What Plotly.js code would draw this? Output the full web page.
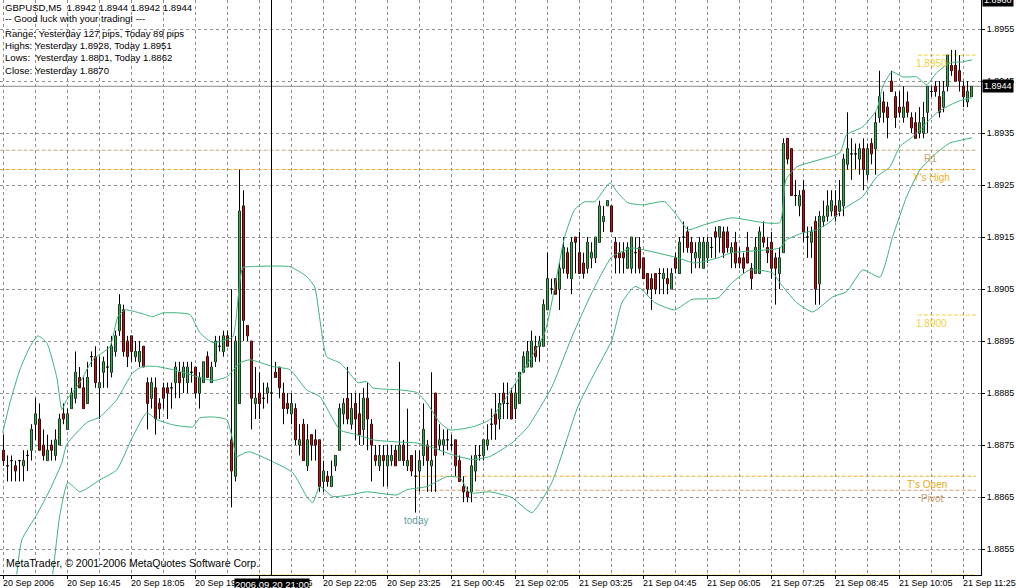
<!DOCTYPE html>
<html>
<head>
<meta charset="utf-8">
<script src="https://cdn.plot.ly/plotly-3.0.1.min.js"></script>
<style>html,body{margin:0;padding:0;background:#fff;}#chart{width:1016px;height:588px;}</style>
</head>
<body>
<div id="chart"></div>
<script>
// ---- data: GBPUSD M5 candles, 20 Sep 2006 15:25 .. 21 Sep 2006 11:35 ----
const tickLabels = ["20 Sep 2006","20 Sep 16:45","20 Sep 18:05","20 Sep 19:25","20 Sep 20:45","20 Sep 22:05","20 Sep 23:25","21 Sep 00:45","21 Sep 02:05","21 Sep 03:25","21 Sep 04:45","21 Sep 06:05","21 Sep 07:25","21 Sep 08:45","21 Sep 10:05","21 Sep 11:25"];
const priceTicks = [1.8855,1.8865,1.8875,1.8885,1.8895,1.8905,1.8915,1.8925,1.8935,1.8945,1.8955];

const opens = [
1.8874,1.8871,1.8872,1.8871,1.8872,1.8871,1.8873,1.8874,1.8879,1.8880,
1.8875,1.8872,1.8875,1.8873,1.8875,1.8881,1.8878,1.8882,1.8884,1.8888,
1.8886,1.8883,1.8892,1.8892,1.8886,1.8889,1.8890,1.8889,1.8893,1.8897,
1.8901,1.8895,1.8896,1.8892,1.8891,1.8894,1.8887,1.8884,1.8886,1.8883,
1.8886,1.8886,1.8886,1.8887,1.8889,1.8888,1.8887,1.8889,1.8890,1.8885,
1.8887,1.8892,1.8887,1.8891,1.8894,1.8893,1.8896,1.8876,1.8869,1.8883,
1.8921,1.8898,1.8895,1.8883,1.8885,1.8884,1.8885,1.8885,1.8889,1.8890,
1.8885,1.8883,1.8881,1.8882,1.8875,1.8879,1.8871,1.8877,1.8876,1.8876,
1.8868,1.8869,1.8867,1.8871,1.8874,1.8881,1.8884,1.8879,1.8883,1.8881,
1.8878,1.8884,1.8879,1.8873,1.8871,1.8873,1.8871,1.8872,1.8874,1.8872,
1.8875,1.8871,1.8873,1.8869,1.8870,1.8873,1.8875,1.8871,1.8885,1.8875,
1.8875,1.8876,1.8875,1.8876,1.8872,1.8867,1.8866,1.8866,1.8870,1.8873,
1.8873,1.8875,1.8879,1.8881,1.8880,1.8885,1.8883,1.8885,1.8882,1.8883,
1.8889,1.8890,1.8890,1.8894,1.8894,1.8894,1.8901,1.8905,1.8907,1.8905,
1.8909,1.8912,1.8907,1.8915,1.8912,1.8910,1.8909,1.8911,1.8911,1.8914,
1.8918,1.8921,1.8921,1.8914,1.8912,1.8912,1.8909,1.8909,1.8912,1.8913,
1.8911,1.8908,1.8907,1.8908,1.8908,1.8907,1.8907,1.8905,1.8911,1.8908,
1.8915,1.8916,1.8914,1.8911,1.8911,1.8909,1.8911,1.8913,1.8916,1.8915,
1.8916,1.8916,1.8912,1.8914,1.8911,1.8911,1.8913,1.8909,1.8908,1.8908,
1.8915,1.8913,1.8914,1.8911,1.8908,1.8912,1.8934,1.8932,1.8923,1.8921,
1.8924,1.8915,1.8914,1.8918,1.8906,1.8918,1.8919,1.8920,1.8921,1.8920,
1.8921,1.8929,1.8931,1.8931,1.8930,1.8932,1.8927,1.8933,1.8932,1.8938,
1.8941,1.8940,1.8945,1.8942,1.8940,1.8938,1.8941,1.8938,1.8937,1.8935,
1.8935,1.8939,1.8943,1.8944,1.8942,1.8940,1.8944,1.8948,1.8948,1.8947,
1.8944,1.8941,1.8942];
const highs = [
1.8877,1.8873,1.8873,1.8872,1.8872,1.8874,1.8874,1.8879,1.8884,1.8883,
1.8878,1.8877,1.8876,1.8878,1.8881,1.8883,1.8882,1.8886,1.8893,1.8890,
1.8888,1.8891,1.8893,1.8894,1.8892,1.8892,1.8894,1.8896,1.8897,1.8904,
1.8902,1.8896,1.8896,1.8895,1.8895,1.8894,1.8888,1.8888,1.8888,1.8884,
1.8887,1.8887,1.8887,1.8891,1.8891,1.8891,1.8891,1.8891,1.8890,1.8889,
1.8891,1.8893,1.8891,1.8896,1.8896,1.8897,1.8897,1.8905,1.8896,1.8928,
1.8924,1.8898,1.8895,1.8890,1.8889,1.8887,1.8887,1.8886,1.8891,1.8890,
1.8887,1.8885,1.8885,1.8883,1.8879,1.8880,1.8879,1.8877,1.8878,1.8876,
1.8872,1.8870,1.8872,1.8873,1.8883,1.8884,1.8890,1.8885,1.8885,1.8885,
1.8886,1.8887,1.8880,1.8875,1.8875,1.8875,1.8875,1.8875,1.8875,1.8891,
1.8876,1.8882,1.8873,1.8874,1.8874,1.8883,1.8876,1.8889,1.8885,1.8879,
1.8878,1.8878,1.8877,1.8876,1.8873,1.8869,1.8867,1.8873,1.8875,1.8875,
1.8876,1.8879,1.8882,1.8885,1.8885,1.8887,1.8887,1.8886,1.8887,1.8889,
1.8893,1.8895,1.8897,1.8896,1.8896,1.8903,1.8912,1.8907,1.8907,1.8910,
1.8915,1.8913,1.8915,1.8915,1.8916,1.8912,1.8915,1.8914,1.8915,1.8922,
1.8921,1.8922,1.8921,1.8915,1.8914,1.8914,1.8914,1.8915,1.8915,1.8915,
1.8911,1.8908,1.8908,1.8908,1.8909,1.8909,1.8909,1.8909,1.8912,1.8915,
1.8918,1.8917,1.8915,1.8914,1.8915,1.8915,1.8915,1.8915,1.8917,1.8917,
1.8917,1.8917,1.8914,1.8916,1.8913,1.8912,1.8916,1.8910,1.8915,1.8917,
1.8918,1.8915,1.8916,1.8912,1.8913,1.8934,1.8934,1.8932,1.8926,1.8924,
1.8926,1.8917,1.8917,1.8919,1.8920,1.8922,1.8924,1.8924,1.8924,1.8926,
1.8931,1.8939,1.8934,1.8933,1.8933,1.8934,1.8933,1.8934,1.8939,1.8947,
1.8943,1.8941,1.8947,1.8943,1.8943,1.8944,1.8943,1.8939,1.8939,1.8940,
1.8941,1.8944,1.8944,1.8945,1.8945,1.8945,1.8950,1.8951,1.8951,1.8950,
1.8945,1.8945,1.8944];
const lows = [
1.8871,1.8868,1.8868,1.8868,1.8868,1.8868,1.8870,1.8872,1.8876,1.8874,
1.8872,1.8872,1.8872,1.8872,1.8875,1.8879,1.8878,1.8882,1.8883,1.8886,
1.8882,1.8883,1.8890,1.8886,1.8880,1.8886,1.8886,1.8888,1.8892,1.8896,
1.8892,1.8890,1.8891,1.8891,1.8890,1.8890,1.8878,1.8882,1.8877,1.8880,
1.8882,1.8880,1.8882,1.8884,1.8884,1.8885,1.8885,1.8887,1.8884,1.8882,
1.8887,1.8888,1.8887,1.8890,1.8893,1.8892,1.8894,1.8863,1.8868,1.8883,
1.8895,1.8895,1.8878,1.8880,1.8880,1.8882,1.8883,1.8883,1.8888,1.8884,
1.8879,1.8881,1.8879,1.8875,1.8873,1.8872,1.8870,1.8872,1.8872,1.8866,
1.8866,1.8867,1.8867,1.8870,1.8874,1.8879,1.8879,1.8878,1.8876,1.8875,
1.8875,1.8874,1.8868,1.8871,1.8870,1.8867,1.8867,1.8871,1.8871,1.8872,
1.8871,1.8870,1.8869,1.8862,1.8866,1.8871,1.8866,1.8866,1.8866,1.8874,
1.8873,1.8874,1.8874,1.8869,1.8868,1.8864,1.8864,1.8864,1.8868,1.8872,
1.8872,1.8874,1.8876,1.8876,1.8878,1.8880,1.8880,1.8880,1.8880,1.8883,
1.8889,1.8890,1.8890,1.8891,1.8891,1.8894,1.8901,1.8904,1.8904,1.8901,
1.8908,1.8907,1.8904,1.8908,1.8908,1.8907,1.8908,1.8909,1.8910,1.8914,
1.8916,1.8921,1.8916,1.8908,1.8908,1.8908,1.8909,1.8908,1.8908,1.8908,
1.8907,1.8904,1.8901,1.8904,1.8904,1.8904,1.8904,1.8905,1.8908,1.8908,
1.8912,1.8912,1.8908,1.8909,1.8909,1.8909,1.8910,1.8911,1.8911,1.8912,
1.8911,1.8912,1.8909,1.8909,1.8909,1.8908,1.8910,1.8905,1.8908,1.8908,
1.8913,1.8910,1.8907,1.8902,1.8905,1.8912,1.8929,1.8923,1.8921,1.8919,
1.8914,1.8911,1.8911,1.8902,1.8902,1.8917,1.8918,1.8919,1.8918,1.8919,
1.8919,1.8928,1.8926,1.8928,1.8927,1.8924,1.8926,1.8929,1.8927,1.8937,
1.8937,1.8934,1.8943,1.8936,1.8938,1.8937,1.8938,1.8935,1.8934,1.8934,
1.8934,1.8935,1.8942,1.8942,1.8938,1.8939,1.8943,1.8946,1.8945,1.8943,
1.8940,1.8940,1.8942];
const closes = [
1.8872,1.8871,1.8872,1.8870,1.8872,1.8872,1.8873,1.8878,1.8881,1.8874,
1.8873,1.8874,1.8874,1.8876,1.8880,1.8880,1.8881,1.8885,1.8889,1.8886,
1.8882,1.8888,1.8892,1.8887,1.8887,1.8891,1.8890,1.8894,1.8896,1.8902,
1.8893,1.8892,1.8893,1.8893,1.8893,1.8890,1.8883,1.8887,1.8880,1.8882,
1.8884,1.8885,1.8886,1.8890,1.8887,1.8890,1.8890,1.8889,1.8885,1.8888,
1.8891,1.8888,1.8890,1.8895,1.8894,1.8896,1.8894,1.8870,1.8895,1.8920,
1.8899,1.8896,1.8884,1.8884,1.8883,1.8884,1.8886,1.8885,1.8888,1.8886,
1.8882,1.8882,1.8883,1.8876,1.8876,1.8872,1.8876,1.8875,1.8875,1.8867,
1.8870,1.8868,1.8869,1.8873,1.8882,1.8883,1.8880,1.8882,1.8880,1.8877,
1.8884,1.8880,1.8875,1.8872,1.8873,1.8872,1.8873,1.8873,1.8871,1.8875,
1.8872,1.8872,1.8870,1.8869,1.8872,1.8878,1.8872,1.8872,1.8873,1.8876,
1.8876,1.8876,1.8875,1.8871,1.8868,1.8866,1.8865,1.8871,1.8873,1.8873,
1.8876,1.8876,1.8879,1.8879,1.8883,1.8883,1.8883,1.8880,1.8885,1.8889,
1.8892,1.8893,1.8895,1.8892,1.8895,1.8902,1.8907,1.8905,1.8904,1.8909,
1.8913,1.8908,1.8914,1.8914,1.8908,1.8908,1.8914,1.8912,1.8915,1.8921,
1.8919,1.8922,1.8916,1.8911,1.8911,1.8911,1.8913,1.8915,1.8912,1.8909,
1.8907,1.8905,1.8905,1.8905,1.8908,1.8908,1.8906,1.8908,1.8909,1.8914,
1.8915,1.8913,1.8912,1.8912,1.8914,1.8914,1.8914,1.8913,1.8915,1.8917,
1.8912,1.8913,1.8913,1.8910,1.8910,1.8909,1.8910,1.8907,1.8913,1.8916,
1.8914,1.8912,1.8909,1.8909,1.8911,1.8933,1.8930,1.8923,1.8923,1.8923,
1.8916,1.8915,1.8916,1.8905,1.8919,1.8919,1.8921,1.8922,1.8919,1.8922,
1.8930,1.8932,1.8931,1.8931,1.8932,1.8928,1.8932,1.8931,1.8937,1.8942,
1.8939,1.8938,1.8943,1.8938,1.8939,1.8940,1.8939,1.8936,1.8934,1.8937,
1.8938,1.8944,1.8943,1.8943,1.8939,1.8943,1.8950,1.8947,1.8945,1.8945,
1.8942,1.8943,1.8944];

// Bollinger bands, read at bar positions (bar index)
const upperBar = [-0.2,1.6,4.1,6.6,8.6,10.8,13.3,14.6,15.8,19.1,22.3,26.6,28.6,30.3,34.1,37.3,39.8,46.6,49.1,52.3,57.3,58.1,59.8,61.6,71.6,75.8,77.8,79.1,80.8,84.1,85.8,88.6,90.8,92.3,99.1,103.3,105.8,109.1,111.6,117.3,121.6,128.6,135.3,140.3,142.8,145.3,147.8,151.6,153.6,156.1,159.8,165.3,168.6,171.1,175.3,182.1,189.8,194.1,195.6,198.3,204.1,209.1,210.8,214.8,218.3,219.8,222.1,224.8,228.3,230.8,233.3,236.6,239.8,242.1];
const upperBand = [1.88774,1.88831,1.88895,1.88939,1.88960,1.88947,1.88881,1.88818,1.88837,1.88870,1.88914,1.88939,1.88997,1.89010,1.89004,1.88997,1.89004,1.89001,1.88966,1.88947,1.88958,1.88991,1.89091,1.89093,1.89093,1.89074,1.89054,1.88991,1.88920,1.88908,1.88895,1.88870,1.88872,1.88860,1.88856,1.88851,1.88831,1.88793,1.88779,1.88785,1.88799,1.88876,1.88966,1.89151,1.89203,1.89218,1.89218,1.89254,1.89235,1.89216,1.89212,1.89218,1.89189,1.89164,1.89174,1.89187,1.89178,1.89178,1.89260,1.89285,1.89299,1.89312,1.89347,1.89362,1.89395,1.89439,1.89468,1.89458,1.89458,1.89443,1.89466,1.89485,1.89487,1.89491];
const middleBar = [3.3,4.6,8.3,11.6,14.6,15.8,20.8,24.1,28.3,32.3,34.8,38.3,42.3,49.1,52.3,55.8,59.1,61.6,67.3,71.6,75.8,79.1,84.1,88.3,92.3,98.3,103.3,107.3,112.3,117.3,121.6,127.1,131.1,137.1,142.1,147.1,152.1,157.1,162.1,168.6,172.8,178.6,182.1,194.1,195.8,199.8,203.3,206.6,209.8,214.8,218.3,221.6,224.1,227.3,229.8,233.3,236.6,239.8,242.1];
const middleBand = [1.88501,1.88568,1.88616,1.88664,1.88716,1.88751,1.88793,1.88804,1.88837,1.88889,1.88901,1.88901,1.88895,1.88880,1.88874,1.88881,1.88908,1.88914,1.88901,1.88895,1.88856,1.88843,1.88779,1.88770,1.88760,1.88756,1.88754,1.88745,1.88731,1.88722,1.88728,1.88754,1.88785,1.88862,1.88958,1.89043,1.89112,1.89129,1.89122,1.89110,1.89100,1.89110,1.89120,1.89129,1.89145,1.89158,1.89164,1.89179,1.89203,1.89228,1.89266,1.89285,1.89324,1.89343,1.89362,1.89389,1.89404,1.89414,1.89418];
const lowerBar = [12.3,13.3,14.1,16.1,19.1,24.1,28.3,32.3,35.8,38.3,42.3,47.3,49.1,52.3,55.8,57.1,58.3,60.3,61.6,67.3,72.3,75.8,77.3,79.1,82.3,86.6,90.8,98.3,100.8,105.8,110.8,114.1,116.6,121.6,127.1,132.1,137.1,143.6,147.8,152.1,154.6,157.8,159.6,162.8,167.8,172.1,178.6,182.1,186.6,192.3,194.1,198.3,202.3,207.3,210.8,214.8,219.1,222.3,225.8,229.1,233.3,236.6,239.8,242.1];
const lowerBand = [1.88501,1.88568,1.88616,1.88678,1.88660,1.88683,1.88702,1.88766,1.88812,1.88799,1.88789,1.88785,1.88802,1.88804,1.88799,1.88766,1.88728,1.88735,1.88737,1.88718,1.88697,1.88651,1.88639,1.88670,1.88651,1.88654,1.88660,1.88654,1.88664,1.88670,1.88689,1.88687,1.88658,1.88660,1.88649,1.88620,1.88678,1.88824,1.88889,1.88952,1.89024,1.89055,1.89049,1.89024,1.89010,1.89030,1.89033,1.89062,1.89087,1.89081,1.89062,1.89024,1.89006,1.89035,1.89045,1.89087,1.89073,1.89151,1.89228,1.89279,1.89312,1.89331,1.89337,1.89341];

// levels
const currentPrice = 1.8944;
const yHigh = 1.8928, r1 = 1.89317, pivot = 1.88663, todayOpen = 1.8869, todayLow = 1.8862;
const roundLevels = [1.8950, 1.8900, 1.8850];
const todayStartBar = 103, crossBar = 67;

// ---- drawing ----
const bars = opens.map((_, i) => i);
const FONT = 'Liberation Sans, Arial, sans-serif';
const gridColor = '#8f8f8f';
const xEnd = 243.1;
const BULL = '#45a455', BEAR = '#b01818';

// body colour strips (one segment per candle body), drawn above the black candle outline
function bodyStrip(up) {
  const xs = [], ys = [];
  opens.forEach((o, i) => {
    const c = closes[i];
    if (up ? c > o : c < o) { xs.push(i, i, null); ys.push(o, c, null); }
  });
  return {type:'scatter', mode:'lines', x:xs, y:ys, connectgaps:false,
          line:{color: up ? BULL : BEAR, width:1.7}, hoverinfo:'skip'};
}

const traces = [
  {type:'candlestick', x: bars, open: opens, high: highs, low: lows, close: closes,
   increasing:{line:{color:'#000000', width:1}, fillcolor:BULL},
   decreasing:{line:{color:'#000000', width:1}, fillcolor:BEAR},
   whiskerwidth:0, hoverinfo:'skip'},
  bodyStrip(true),
  bodyStrip(false),
  {type:'scatter', mode:'lines', x: upperBar, y: upperBand, line:{color:'#3cb37a', width:1, shape:'spline', smoothing:0.5}, hoverinfo:'skip'},
  {type:'scatter', mode:'lines', x: middleBar, y: middleBand, line:{color:'#3cb37a', width:1, shape:'spline', smoothing:0.5}, hoverinfo:'skip'},
  {type:'scatter', mode:'lines', x: lowerBar, y: lowerBand, line:{color:'#3cb37a', width:1, shape:'spline', smoothing:0.5}, hoverinfo:'skip'}
];

function hline(y, x0, x1, color, dash, xref) {
  return {type:'line', xref: xref || 'x', yref:'y', x0:x0, x1:x1, y0:y, y1:y,
          line:{color:color, width:1, dash:dash}, layer:'below'};
}
const shapes = [
  hline(currentPrice, 0, 1, '#8c8c8c', 'solid', 'paper'),
  hline(yHigh, -1, xEnd, '#f0a830', '4px,2px'),
  hline(r1, -1, xEnd, '#c8a880', '4px,2px'),
  hline(roundLevels[0], 228.6, xEnd, '#f2d23a', '4px,2px'),
  hline(roundLevels[1], 228.6, xEnd, '#f2d23a', '4px,2px'),
  hline(roundLevels[2], 61.6, xEnd, '#f2d23a', '4px,2px'),
  hline(todayOpen, todayStartBar, xEnd, '#f0b030', '4px,2px'),
  hline(pivot, todayStartBar, xEnd, '#d8a070', '4px,2px'),
  {type:'line', xref:'x', yref:'paper', x0:crossBar, x1:crossBar, y0:0, y1:1, line:{color:'#000', width:1}, layer:'above'}
];

const infoLines = [
  ["GBPUSD,M5\u00a0 1.8942 1.8944 1.8942 1.8944", 7],
  ["-- Good luck with your trading! ---", 18],
  ["Range: Yesterday 127 pips, Today 89 pips", 33],
  ["Highs: Yesterday 1.8928, Today 1.8951", 45.5],
  ["Lows:\u00a0 Yesterday 1.8801, Today 1.8862", 57.5],
  ["Close: Yesterday 1.8870", 70]
];
const annotations = infoLines.map(([t, yy]) => ({
  text:t, xref:'paper', yref:'paper', x:0, y:1, xanchor:'left', yanchor:'middle',
  xshift:3, yshift:-yy, showarrow:false, font:{family:FONT, size:9.6, color:'#000'}
}));
annotations.push({text:'MetaTrader, © 2001-2006 MetaQuotes Software Corp.', xref:'paper', yref:'paper', x:0, y:0,
  xanchor:'left', yanchor:'middle', xshift:4, yshift:12, showarrow:false, font:{family:FONT, size:10.5, color:'#000'}});

// time labels (left-aligned at their tick, as in the terminal)
const majorTicks = tickLabels.map((_, k) => k * 16);
const minorTicks = tickLabels.map((_, k) => k * 16 + 8);
tickLabels.forEach((t, k) => annotations.push({
  text:t, xref:'x', yref:'paper', x:majorTicks[k], y:0, xanchor:'left', yanchor:'top',
  xshift:-2, yshift:-2, borderpad:0, showarrow:false, font:{family:FONT, size:9, color:'#000'}
}));

function lvlLabel(text, y, xc, color) {
  return {text:text, xref:'x', yref:'y', x:xc, y:y, xanchor:'center', yanchor:'top', yshift:-1,
          showarrow:false, font:{family:FONT, size:10, color:color}};
}
annotations.push(lvlLabel('1.8950', roundLevels[0], 232.1, '#f0d040'));
annotations.push(lvlLabel('R1', r1, 231.8, '#c8a070'));
annotations.push(lvlLabel("Y's High", yHigh, 232.1, '#f0b030'));
annotations.push(lvlLabel('1.8900', roundLevels[1], 232.1, '#f0d040'));
annotations.push(lvlLabel("T's Open", todayOpen, 230.9, '#e8a820'));
annotations.push(lvlLabel('Pivot', pivot, 232.1, '#c89a68'));
annotations.push({text:'today', xref:'x', yref:'y', x:todayStartBar, y:todayLow, xanchor:'center', yanchor:'top',
  showarrow:false, font:{family:FONT, size:10, color:'#5f9ea0'}});
annotations.push({text:currentPrice.toFixed(4), xref:'paper', yref:'y', x:1, y:currentPrice, xanchor:'left', yanchor:'middle',
  xshift:1, showarrow:false, bgcolor:'#000', borderpad:1, font:{family:FONT, size:9, color:'#fff'}});
annotations.push({text:'1.8960', xref:'paper', yref:'y', x:1, y:1.8960, xanchor:'left', yanchor:'middle',
  xshift:1, yshift:3, showarrow:false, bgcolor:'#000', borderpad:1, font:{family:FONT, size:9, color:'#fff'}});
annotations.push({text:'2006.09.20 21:00', xref:'x', yref:'paper', x:crossBar, y:0, xanchor:'center', yanchor:'top',
  yshift:-3, showarrow:false, bgcolor:'#000', borderpad:0, font:{family:FONT, size:9.5, color:'#fff'}});

const layout = {
  width:1016, height:588,
  margin:{l:0, r:35, t:0, b:13, pad:0},
  paper_bgcolor:'#fff', plot_bgcolor:'#fff',
  showlegend:false, boxgap:0.3,
  font:{family:FONT, size:9, color:'#000'},
  xaxis:{
    type:'linear', range:[-0.875, 244.375], fixedrange:true,
    rangeslider:{visible:false},
    tickmode:'array', tickvals:majorTicks, showticklabels:false,
    ticks:'outside', ticklen:3, tickcolor:'#000', tickwidth:1,
    showgrid:true, gridcolor:gridColor, gridwidth:1, griddash:'3px,3px',
    minor:{tickmode:'array', tickvals:minorTicks, showgrid:true, gridcolor:gridColor, gridwidth:1, griddash:'3px,3px', ticks:''},
    showline:true, mirror:true, linecolor:'#000', linewidth:1, zeroline:false
  },
  yaxis:{
    side:'right', range:[1.8850, 1.89606], fixedrange:true,
    tickmode:'array', tickvals:priceTicks, ticktext:priceTicks.map(v => v.toFixed(4)),
    ticks:'outside', ticklen:3, tickcolor:'#000', tickwidth:1,
    tickfont:{family:FONT, size:9, color:'#000'},
    showgrid:true, gridcolor:gridColor, gridwidth:1, griddash:'3px,3px',
    showline:true, mirror:true, linecolor:'#000', linewidth:1, zeroline:false
  },
  shapes:shapes,
  annotations:annotations
};

Plotly.newPlot('chart', traces, layout, {staticPlot:true, displayModeBar:false});
</script>
</body>
</html>
